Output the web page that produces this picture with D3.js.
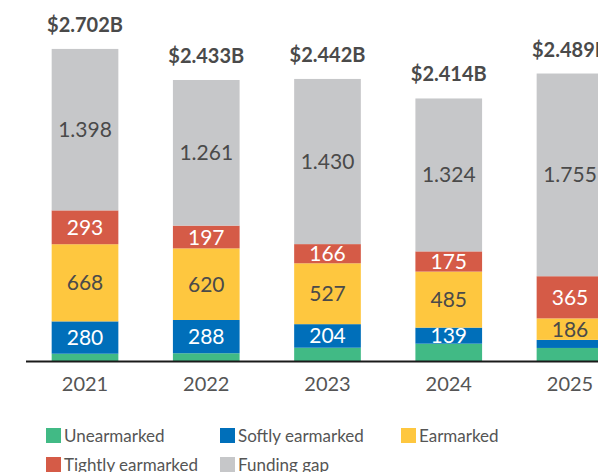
<!DOCTYPE html>
<html>
<head>
<meta charset="utf-8">
<script src="https://cdn.jsdelivr.net/npm/d3@7"></script>
<style>
  html,body{margin:0;padding:0;background:#fff;}
  svg{display:block;}
</style>
</head>
<body>
<div id="chart"></div>
<script>
var years = ['2021','2022','2023','2024','2025'];
var totals = ['$2.702B','$2.433B','$2.442B','$2.414B','$2.489B'];
// values in millions
var unearmarked = [63, 67, 115, 150, 113];
var softly = [280, 288, 204, 139, 70];
var earmarked = [668, 620, 527, 485, 186];
var tightly = [293, 197, 166, 175, 365];
var gap = [1398, 1261, 1430, 1324, 1755];
// text shown in each segment ('' = none)
var softlyLabels = ['280','288','204','139',''];
var earmarkedLabels = ['668','620','527','485','186'];
var tightlyLabels = ['293','197','166','175','365'];
var gapLabels = ['1.398','1.261','1.430','1.324','1.755'];

var series = [
    {name:'Unearmarked', values:unearmarked, labels:null, color:'#41ba85', text:'#fff'},
    {name:'Softly earmarked', values:softly, labels:softlyLabels, color:'#006fba', text:'#fff'},
    {name:'Earmarked', values:earmarked, labels:earmarkedLabels, color:'#fec73f', text:'#4a4a4a'},
    {name:'Tightly earmarked', values:tightly, labels:tightlyLabels, color:'#d55b47', text:'#fff'},
    {name:'Funding gap', values:gap, labels:gapLabels, color:'#c6c7c9', text:'#4a4a4a'}
];

var width = 598, height = 472;
var font = 'Lato, "Open Sans", sans-serif';
var baseline = 361;

var svg = d3.select('#chart').append('svg')
    .attr('width',width)
    .attr('height',height);

var x = d3.scaleBand()
    .domain(years)
    .range([25, 630])
    .paddingInner(0.45)
    .paddingOuter(0.22);

var y = d3.scaleLinear()
    .domain([0,3000])
    .range([baseline, baseline-3000*0.1155]);

var rows = years.map(function(yr,i){
    var r = {year:yr};
    series.forEach(function(s){ r[s.name] = s.values[i]; });
    return r;
});
var stack = d3.stack().keys(series.map(function(s){return s.name;}))(rows);

var layers = svg.append('g').selectAll('g')
    .data(stack)
    .enter().append('g')
    .attr('fill',function(d,i){return series[i].color;});

layers.selectAll('rect')
    .data(function(d){return d;})
    .enter().append('rect')
    .attr('x',function(d){return x(d.data.year);})
    .attr('y',function(d){return y(d[1]);})
    .attr('width',x.bandwidth())
    .attr('height',function(d){return y(d[0])-y(d[1]);});

layers.each(function(layer,i){
    var s = series[i];
    if(!s.labels)return;
    d3.select(this).selectAll('text')
        .data(layer)
        .enter().append('text')
        .text(function(d,j){return s.labels[j];})
        .attr('x',function(d){return x(d.data.year)+x.bandwidth()/2;})
        .attr('y',function(d){return (y(d[0])+y(d[1]))/2;})
        .attr('dy','0.36em')
        .attr('text-anchor','middle')
        .attr('fill',s.text)
        .attr('font-family',font)
        .attr('font-size','21px');
});

// totals on top
var topLayer = stack[stack.length-1];
svg.append('g').selectAll('text')
    .data(topLayer)
    .enter().append('text')
    .text(function(d,i){return totals[i];})
    .attr('x',function(d){return x(d.data.year)+x.bandwidth()/2;})
    .attr('y',function(d){return y(d[1])-17;})
    .attr('text-anchor','middle')
    .attr('fill','#4a4a4a')
    .attr('font-family',font)
    .attr('font-weight','bold')
    .attr('font-size','20px');

// x axis
var xAxis = svg.append('g')
    .attr('transform','translate(0,'+baseline+')')
    .call(d3.axisBottom(x).tickSize(0).tickPadding(16));
xAxis.select('.domain').remove();
xAxis.append('line')
    .attr('x1',26).attr('x2',width)
    .attr('y1',0.5).attr('y2',0.5)
    .attr('stroke','#1a1a1a')
    .attr('stroke-width',2);
xAxis.selectAll('text')
    .attr('fill','#555')
    .attr('font-family',font)
    .attr('font-size','20px');

// legend
var legendCols = [46, 220, 401];
var legend = svg.append('g').selectAll('g')
    .data(series)
    .enter().append('g')
    .attr('transform',function(d,i){
        return 'translate('+legendCols[i%3]+','+(428+Math.floor(i/3)*29)+')';
    });
legend.append('rect')
    .attr('width',15).attr('height',15)
    .attr('fill',function(d){return d.color;});
legend.append('text')
    .text(function(d){return d.name;})
    .attr('x',18)
    .attr('y',14)
    .attr('fill','#555')
    .attr('font-family',font)
    .attr('font-size','17px');
</script>
</body>
</html>
